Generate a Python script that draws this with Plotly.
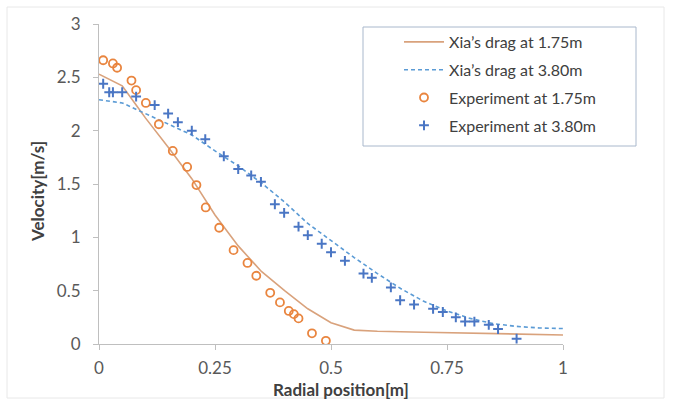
import plotly.graph_objects as go

# Model curves
xia175_x = [0, 0.05, 0.08, 0.10, 0.15, 0.20, 0.25, 0.30, 0.35, 0.40, 0.45, 0.50, 0.55, 0.60, 0.70, 0.80, 0.90, 1.00]
xia175_y = [2.53, 2.42, 2.24, 2.12, 1.84, 1.55, 1.21, 0.92, 0.68, 0.50, 0.33, 0.20, 0.13, 0.12, 0.11, 0.10, 0.09, 0.085]

xia380_x = [0, 0.05, 0.10, 0.15, 0.20, 0.25, 0.30, 0.35, 0.40, 0.45, 0.50, 0.55, 0.60, 0.65, 0.70, 0.75, 0.80, 0.85, 0.90, 0.95, 1.00]
xia380_y = [2.29, 2.26, 2.16, 2.06, 1.96, 1.81, 1.67, 1.51, 1.33, 1.13, 0.97, 0.81, 0.66, 0.52, 0.40, 0.31, 0.24, 0.19, 0.165, 0.15, 0.145]

# Experiments
exp175_x = [0.009, 0.030, 0.039, 0.070, 0.080, 0.101, 0.129, 0.159, 0.190, 0.210, 0.230, 0.259, 0.290,
            0.320, 0.339, 0.369, 0.390, 0.409, 0.420, 0.430, 0.459, 0.489]
exp175_y = [2.66, 2.63, 2.59, 2.47, 2.38, 2.26, 2.06, 1.81, 1.66, 1.49, 1.28, 1.09, 0.88,
            0.76, 0.64, 0.48, 0.39, 0.31, 0.28, 0.24, 0.10, 0.03]

exp380_x = [0.009, 0.022, 0.030, 0.050, 0.080, 0.120, 0.149, 0.170, 0.200, 0.229, 0.269, 0.300, 0.328,
            0.349, 0.379, 0.399, 0.430, 0.450, 0.480, 0.500, 0.530, 0.570, 0.588, 0.629, 0.649, 0.679,
            0.720, 0.741, 0.769, 0.789, 0.809, 0.840, 0.860, 0.900]
exp380_y = [2.44, 2.36, 2.36, 2.36, 2.32, 2.24, 2.16, 2.08, 2.00, 1.92, 1.76, 1.64, 1.58,
            1.52, 1.31, 1.23, 1.10, 1.02, 0.94, 0.86, 0.78, 0.66, 0.62, 0.53, 0.41, 0.37,
            0.33, 0.30, 0.25, 0.21, 0.21, 0.18, 0.14, 0.05]

x_ticks = [0, 0.25, 0.5, 0.75, 1]
x_tick_text = ["0", "0.25", "0.5", "0.75", "1"]
y_ticks = [0, 0.5, 1, 1.5, 2, 2.5, 3]
y_tick_text = ["0", "0.5", "1", "1.5", "2", "2.5", "3"]

ORANGE_LINE = "#D9A27C"
BLUE_LINE = "#5B9BD5"
ORANGE_MK = "#E9853F"
BLUE_MK = "#4A76C4"
TXT = "#404040"

fig = go.Figure()
fig.add_trace(go.Scatter(x=xia175_x, y=xia175_y, mode="lines", name="Xia’s drag at 1.75m",
                         line=dict(color=ORANGE_LINE, width=1.6), legendgroup="a"))
fig.add_trace(go.Scatter(x=xia380_x, y=xia380_y, mode="lines", name="Xia’s drag at 3.80m",
                         line=dict(color=BLUE_LINE, width=1.6, dash="4px,3px"), legendgroup="b"))
fig.add_trace(go.Scatter(x=exp175_x, y=exp175_y, mode="markers", name="Experiment at 1.75m",
                         marker=dict(symbol="circle-open", size=8, color=ORANGE_MK, line=dict(width=1.8)),
                         legendgroup="c"))
fig.add_trace(go.Scatter(x=exp380_x, y=exp380_y, mode="markers", name="Experiment at 3.80m",
                         marker=dict(symbol="cross-thin", size=7, color=BLUE_MK, line=dict(width=2, color=BLUE_MK)),
                         legendgroup="d"))

L, R, T, B = 99, 110, 24, 67
W, H = 673, 411
pw, ph = W - L - R, H - T - B

def px(xp):
    return (xp - L) / pw

def py(yp):
    return (H - B - yp) / ph

fig.update_layout(
    width=W, height=H,
    margin=dict(l=L, r=R, t=T, b=B),
    paper_bgcolor="white", plot_bgcolor="white",
    font=dict(family="Lato, 'Open Sans', sans-serif", color=TXT),
    showlegend=True,
    legend=dict(x=px(399), y=py(25), xanchor="left", yanchor="top",
                bgcolor="rgba(0,0,0,0)", borderwidth=0,
                font=dict(size=16, color=TXT), itemwidth=40,
                traceorder="grouped", tracegroupgap=4),
    xaxis=dict(range=[0, 1], tickvals=x_ticks, ticktext=x_tick_text,
               showgrid=False, zeroline=False, showline=True, linecolor="#BFBFBF", linewidth=1,
               ticks="outside", ticklen=5, tickcolor="#BFBFBF", ticklabelstandoff=4,
               tickfont=dict(size=17, color="#595959"), fixedrange=True),
    yaxis=dict(range=[0, 3], tickvals=y_ticks, ticktext=y_tick_text,
               showgrid=False, zeroline=False, showline=True, linecolor="#BFBFBF", linewidth=1,
               ticks="outside", ticklen=5, tickcolor="#BFBFBF", ticklabelstandoff=9,
               tickfont=dict(size=17, color="#595959"), fixedrange=True),
    shapes=[
        dict(type="rect", xref="paper", yref="paper", x0=px(7), x1=px(664), y0=py(398), y1=py(7),
             line=dict(color="#E8E8E8", width=1), layer="below"),
        dict(type="rect", xref="paper", yref="paper", x0=px(363), x1=px(636), y0=py(146), y1=py(27),
             line=dict(color="#A9B8CC", width=1)),
    ],
    annotations=[
        dict(text="<b>Radial position[m]</b>", xref="paper", yref="paper", x=px(341), y=py(389),
             xanchor="center", yanchor="middle", showarrow=False, font=dict(size=17, color=TXT)),
        dict(text="<b>Velocity[m/s]</b>", xref="paper", yref="paper", x=px(37), y=py(192),
             xanchor="center", yanchor="middle", showarrow=False, textangle=-90,
             font=dict(size=17, color=TXT)),
    ],
)

fig.write_html("out.html")
